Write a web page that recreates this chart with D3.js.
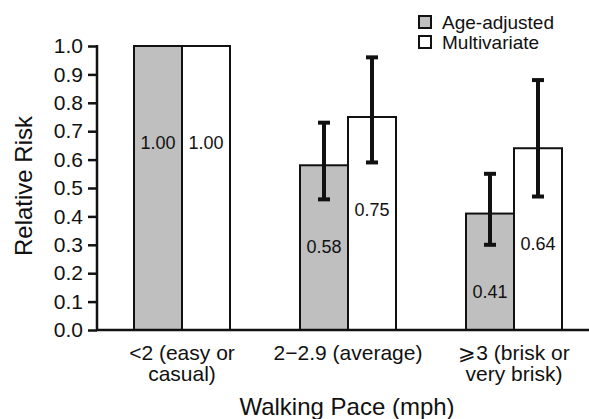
<!DOCTYPE html>
<html><head><meta charset="utf-8">
<script src="https://cdn.jsdelivr.net/npm/d3@7"></script>
<style>
html,body{margin:0;padding:0;background:#fff;}
svg{display:block;font-family:"Liberation Sans",Arial,Helvetica,sans-serif;}
</style></head>
<body>
<svg id="chart" width="589" height="419"></svg>
<script>
const categories = ["cat1", "cat2", "cat3"];
const catLine1 = ["<2 (easy or", "2\u22122.9 (average)", "\u2A7E3 (brisk or"];
const catLine2 = ["casual)", "", "very brisk)"];
const seriesNames = ["Age-adjusted", "Multivariate"];
const ageAdjusted = [1.00, 0.58, 0.41];
const ageLower = [null, 0.46, 0.30];
const ageUpper = [null, 0.73, 0.55];
const multivariate = [1.00, 0.75, 0.64];
const multiLower = [null, 0.59, 0.47];
const multiUpper = [null, 0.96, 0.88];
const valueLabels = [["1.00", "0.58", "0.41"], ["1.00", "0.75", "0.64"]];
const yTicks = [0.0, 0.1, 0.2, 0.3, 0.4, 0.5, 0.6, 0.7, 0.8, 0.9, 1.0];
const fills = ["#bfbfbf", "#ffffff"];

const svg = d3.select("#chart");
const y = d3.scaleLinear().domain([0, 1]).range([330, 46]);
const x0 = d3.scaleBand().domain(categories).range([99, 597]);
const barW = 48;
const x1 = d3.scaleBand().domain(seriesNames)
  .range([(x0.bandwidth() - 2 * barW) / 2, (x0.bandwidth() + 2 * barW) / 2]);

const series = [
  {name: seriesNames[0], vals: ageAdjusted, lo: ageLower, hi: ageUpper, fill: fills[0], labels: valueLabels[0]},
  {name: seriesNames[1], vals: multivariate, lo: multiLower, hi: multiUpper, fill: fills[1], labels: valueLabels[1]}
];

const rows = [];
series.forEach(s => categories.forEach((c, i) => rows.push({s, c, i, v: s.vals[i], lo: s.lo[i], hi: s.hi[i], label: s.labels[i]})));

// bars
svg.append("g").selectAll("rect").data(rows).join("rect")
  .attr("x", d => x0(d.c) + x1(d.s.name))
  .attr("y", d => y(d.v))
  .attr("width", x1.bandwidth())
  .attr("height", d => y(0) - y(d.v))
  .attr("fill", d => d.s.fill)
  .attr("stroke", "#111").attr("stroke-width", 2);

// error bars
const eb = svg.append("g").selectAll("g").data(rows.filter(d => d.lo != null)).join("g")
  .attr("transform", d => `translate(${x0(d.c) + x1(d.s.name) + x1.bandwidth() / 2},0)`);
eb.append("line").attr("x1", 0).attr("x2", 0).attr("y1", d => y(d.hi)).attr("y2", d => y(d.lo))
  .attr("stroke", "#111").attr("stroke-width", 4);
eb.append("line").attr("x1", -6).attr("x2", 6).attr("y1", d => y(d.hi)).attr("y2", d => y(d.hi))
  .attr("stroke", "#111").attr("stroke-width", 4);
eb.append("line").attr("x1", -6).attr("x2", 6).attr("y1", d => y(d.lo)).attr("y2", d => y(d.lo))
  .attr("stroke", "#111").attr("stroke-width", 4);

// value labels
svg.append("g").selectAll("text").data(rows).join("text")
  .attr("x", d => x0(d.c) + x1(d.s.name) + x1.bandwidth() / 2)
  .attr("y", d => (d.lo != null ? y(d.lo) + 47 : y(d.v) + 97))
  .attr("dy", "0.35em")
  .attr("text-anchor", "middle")
  .attr("font-size", 18).attr("fill", "#111")
  .text(d => d.label);

// y axis
const yAxis = svg.append("g").attr("transform", "translate(97,0)")
  .call(d3.axisLeft(y).tickValues(yTicks).tickFormat(d3.format(".1f")).tickSize(9).tickPadding(5));
yAxis.select(".domain").attr("stroke", "#111").attr("stroke-width", 2.5).attr("d", `M0,${y(1) - 1}V${y(0)}`);
yAxis.selectAll(".tick line").attr("stroke", "#111").attr("stroke-width", 2.5);
yAxis.selectAll(".tick text").attr("font-size", 21).attr("fill", "#111")
  .attr("font-family", "'Liberation Sans',Arial,sans-serif");

// x axis line
svg.append("line").attr("x1", 96).attr("x2", 589).attr("y1", y(0)).attr("y2", y(0))
  .attr("stroke", "#111").attr("stroke-width", 2.5);

// category labels
const cl = svg.append("g").selectAll("text").data(categories).join("text")
  .attr("text-anchor", "middle").attr("font-size", 21).attr("fill", "#111")
  .attr("x", c => x0(c) + x0.bandwidth() / 2);
cl.append("tspan").attr("x", c => x0(c) + x0.bandwidth() / 2).attr("y", 360).text((c, i) => catLine1[i]);
cl.append("tspan").attr("x", c => x0(c) + x0.bandwidth() / 2).attr("y", 381).text((c, i) => catLine2[i]);

// axis titles
svg.append("text").attr("x", 347).attr("y", 415).attr("text-anchor", "middle")
  .attr("font-size", 24).attr("fill", "#111").text("Walking Pace (mph)");
svg.append("text").attr("transform", "translate(32,186) rotate(-90)").attr("text-anchor", "middle")
  .attr("font-size", 24).attr("fill", "#111").text("Relative Risk");

// legend
const lg = svg.append("g").selectAll("g").data(series).join("g")
  .attr("transform", (d, i) => `translate(419,${16 + i * 20})`);
lg.append("rect").attr("width", 12).attr("height", 12)
  .attr("fill", d => d.fill).attr("stroke", "#111").attr("stroke-width", 2);
lg.append("text").attr("x", 23).attr("y", 6).attr("dy", "0.35em")
  .attr("font-size", 19).attr("fill", "#111").text(d => d.name);
</script>
</body></html>
